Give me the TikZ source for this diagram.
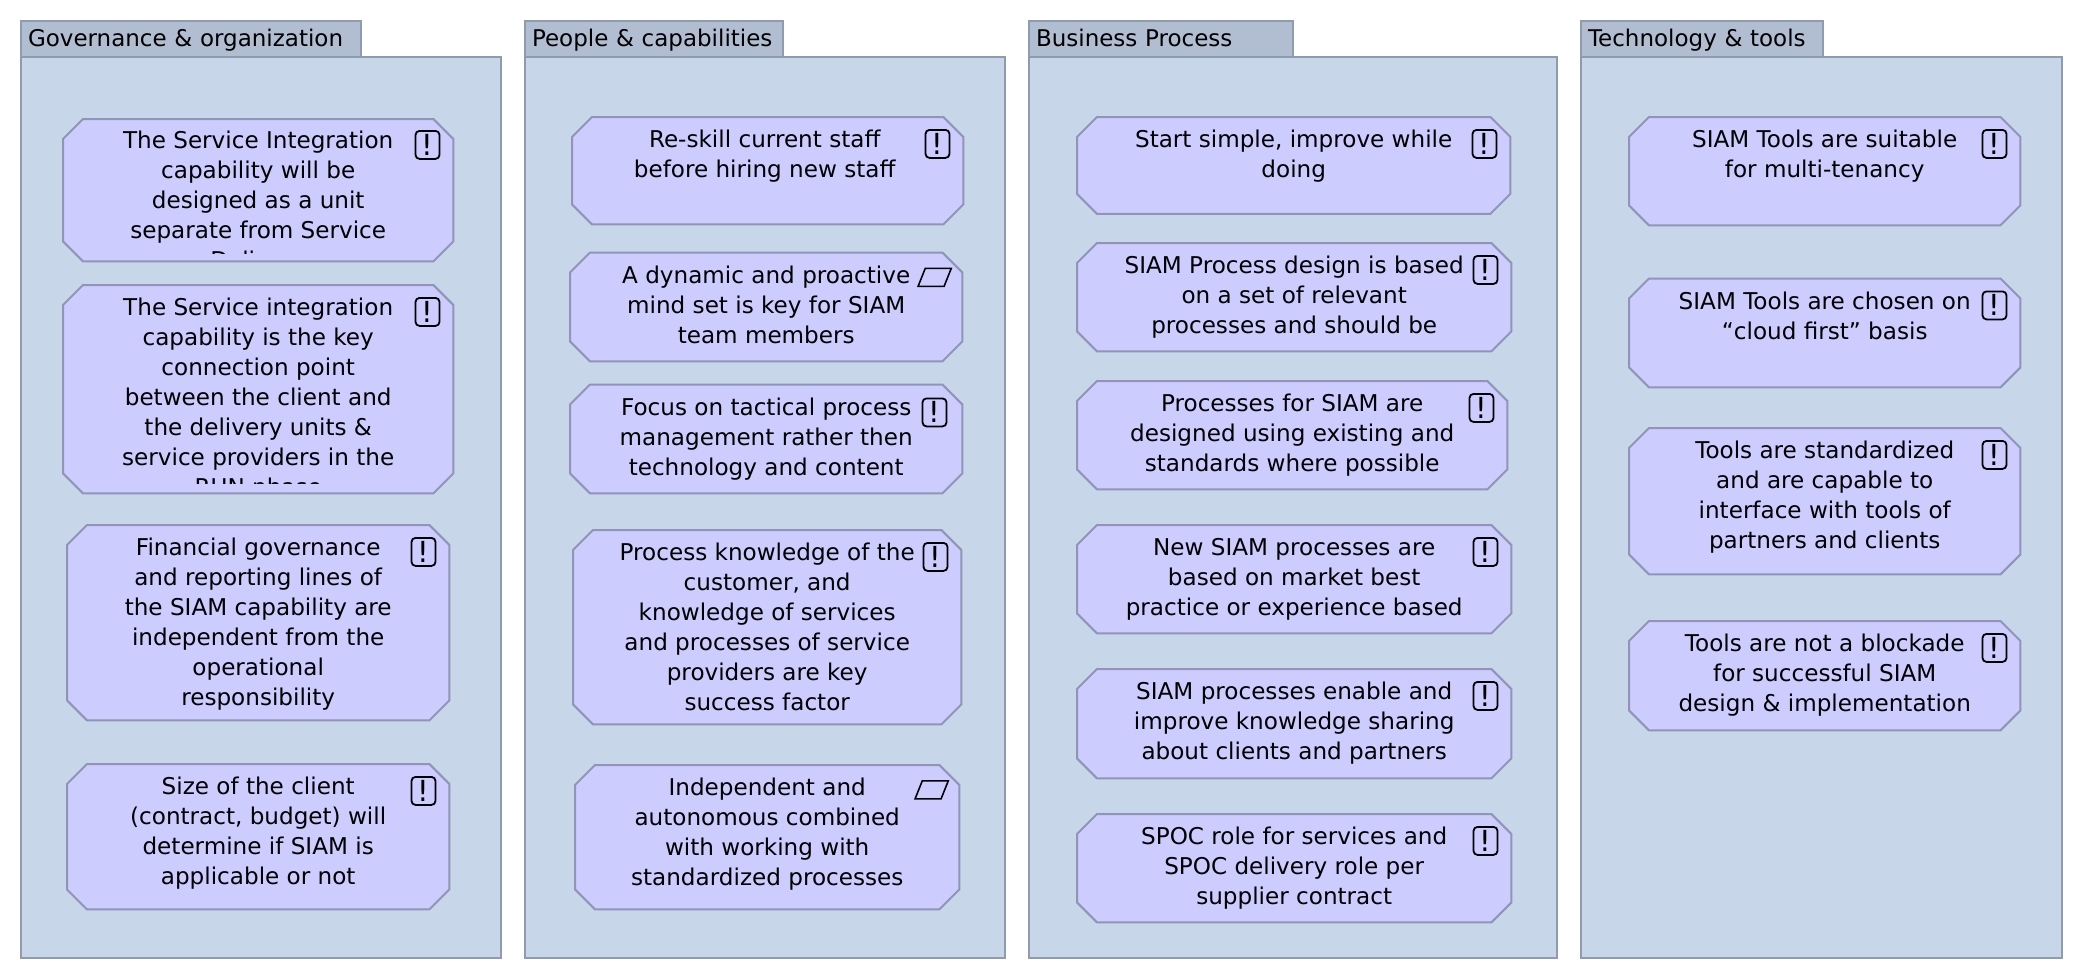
\documentclass[tikz,border=0pt]{standalone}
\usepackage{fontspec}
\setmainfont{DejaVu Sans}
\usetikzlibrary{positioning}
\definecolor{panelfill}{HTML}{C7D6E8}
\definecolor{tabfill}{HTML}{B1BED1}
\definecolor{panelline}{HTML}{8F9CB0}
\definecolor{goalfill}{HTML}{CCCCFF}
\definecolor{goalline}{HTML}{9095B8}
\begin{document}
\begin{tikzpicture}[
  x = 1pt, y = -1pt,
  panel/.style = {draw = panelline, fill = panelfill, line width = 2pt, anchor = north west, inner sep = 0pt, outer sep = 0pt},
  paneltab/.style = {draw = panelline, fill = tabfill, line width = 2pt, anchor = north west, inner xsep = 7pt, inner ysep = 0pt, outer sep = 0pt,
    minimum height = 36pt, text height = 15pt, text depth = 0pt, align = left, font = \fontsize{23}{30}\selectfont},
  goalbox/.style = {inner sep = 0pt, anchor = north west,
    append after command = {\pgfextra{
      \draw [draw = goalline, fill = goalfill, line width = 2pt]
        ([xshift = 20pt]\tikzlastnode.north west) -- ([xshift = -20pt]\tikzlastnode.north east)
        -- ([yshift = -20pt]\tikzlastnode.north east) -- ([yshift = 20pt]\tikzlastnode.south east)
        -- ([xshift = -20pt]\tikzlastnode.south east) -- ([xshift = 20pt]\tikzlastnode.south west)
        -- ([yshift = 20pt]\tikzlastnode.south west) -- ([yshift = -20pt]\tikzlastnode.north west) -- cycle;
    }}},
  goaltext/.style = {inner sep = 0pt, align = center, font = \fontsize{23.1}{30}\selectfont, execute at begin node = \strut},
  noteicon/.style = {draw = black, line width = 1.8pt, rounded corners = 4pt, inner sep = 0pt, minimum width = 24pt, minimum height = 28pt,
    font = \fontsize{29}{29}\selectfont},
  flagicon/.style = {draw = black, line width = 1.6pt, inner sep = 0pt, minimum width = 26pt, minimum height = 18pt, xslant = 0.4, transform shape}
  ]
  \useasboundingbox (0,0) rectangle (2082,978);

  \node (govtab) [paneltab, text width = 326pt] at (21,21) {Governance \& organization};
  \node (gov) [panel, minimum width = 480pt, minimum height = 900.5pt] at (21,57) {};
  \node (peotab) [paneltab, text width = 244pt] at (525,21) {People \& capabilities};
  \node (peo) [panel, minimum width = 480pt, minimum height = 900.5pt] at (525,57) {};
  \node (protab) [paneltab, text width = 250pt] at (1029,21) {Business Process};
  \node (pro) [panel, minimum width = 528pt, minimum height = 900.5pt] at (1029,57) {};
  \node (teatab) [paneltab, text width = 228pt] at (1581,21) {Technology \& tools};
  \node (tea) [panel, minimum width = 481pt, minimum height = 900.5pt] at (1581,57) {};

  \node (gov1) [goalbox, minimum width = 390pt, minimum height = 142pt] at (63,119) {};
  \begin{scope}
    \clip (63,118) rectangle (453,253);
    \node (gov1text) [goaltext, below = 12pt of gov1.north] {The Service Integration\\capability will be\\designed as a unit\\separate from Service\\Delivery};
  \end{scope}
  \node (gov1icon) [noteicon, below left = 11pt and 13pt of gov1.north east] {!};

  \node (gov2) [goalbox, minimum width = 390pt, minimum height = 208pt] at (63,285) {};
  \begin{scope}
    \clip (63,285) rectangle (453,483);
    \node (gov2text) [goaltext, below = 13pt of gov2.north] {The Service integration\\capability is the key\\connection point\\between the client and\\the delivery units \&\\service providers in the\\RUN phase};
  \end{scope}
  \node (gov2icon) [noteicon, below left = 12pt and 13pt of gov2.north east] {!};

  \node (gov3) [goalbox, minimum width = 382pt, minimum height = 195pt] at (67,525) {};
  \node (gov3text) [goaltext, below = 13pt of gov3.north] {Financial governance\\and reporting lines of\\the SIAM capability are\\independent from the\\operational\\responsibility};
  \node (gov3icon) [noteicon, below left = 12pt and 13pt of gov3.north east] {!};

  \node (gov4) [goalbox, minimum width = 382pt, minimum height = 145pt] at (67,764) {};
  \node (gov4text) [goaltext, below = 13pt of gov4.north] {Size of the client\\(contract, budget) will\\determine if SIAM is\\applicable or not};
  \node (gov4icon) [noteicon, below left = 12pt and 13pt of gov4.north east] {!};

  \node (peo1) [goalbox, minimum width = 391pt, minimum height = 107pt] at (572,117) {};
  \node (peo1text) [goaltext, below = 13pt of peo1.north, xshift = -3pt] {Re-skill current staff\\before hiring new staff};
  \node (peo1icon) [noteicon, below left = 12pt and 13pt of peo1.north east] {!};

  \node (peo2) [goalbox, minimum width = 392pt, minimum height = 108.5pt] at (570,252.5) {};
  \node (peo2text) [goaltext, below = 13pt of peo2.north] {A dynamic and proactive\\mind set is key for SIAM\\team members};
  \node (peo2icon) [flagicon, below left = 15pt and 10pt of peo2.north east] {};

  \node (peo3) [goalbox, minimum width = 392pt, minimum height = 108.5pt] at (570,384.5) {};
  \node (peo3text) [goaltext, below = 13pt of peo3.north] {Focus on tactical process\\management rather then\\technology and content};
  \node (peo3icon) [noteicon, below left = 13pt and 15pt of peo3.north east] {!};

  \node (peo4) [goalbox, minimum width = 388pt, minimum height = 194pt] at (573,530) {};
  \node (peo4text) [goaltext, below = 13pt of peo4.north] {Process knowledge of the\\customer, and\\knowledge of services\\and processes of service\\providers are key\\success factor};
  \node (peo4icon) [noteicon, below left = 12pt and 13pt of peo4.north east] {!};

  \node (peo5) [goalbox, minimum width = 384pt, minimum height = 144pt] at (575,765) {};
  \node (peo5text) [goaltext, below = 13pt of peo5.north] {Independent and\\autonomous combined\\with working with\\standardized processes};
  \node (peo5icon) [flagicon, below left = 15pt and 10pt of peo5.north east] {};

  \node (pro1) [goalbox, minimum width = 433pt, minimum height = 96.5pt] at (1077,117) {};
  \node (pro1text) [goaltext, below = 13pt of pro1.north] {Start simple, improve while\\doing};
  \node (pro1icon) [noteicon, below left = 12pt and 13pt of pro1.north east] {!};

  \node (pro2) [goalbox, minimum width = 434pt, minimum height = 108pt] at (1077,243) {};
  \node (pro2text) [goaltext, below = 13pt of pro2.north] {SIAM Process design is based\\on a set of relevant\\processes and should be};
  \node (pro2icon) [noteicon, below left = 12pt and 13pt of pro2.north east] {!};

  \node (pro3) [goalbox, minimum width = 430pt, minimum height = 108pt] at (1077,381) {};
  \node (pro3text) [goaltext, below = 13pt of pro3.north] {Processes for SIAM are\\designed using existing and\\standards where possible};
  \node (pro3icon) [noteicon, below left = 12pt and 13pt of pro3.north east] {!};

  \node (pro4) [goalbox, minimum width = 434pt, minimum height = 108pt] at (1077,525) {};
  \node (pro4text) [goaltext, below = 13pt of pro4.north] {New SIAM processes are\\based on market best\\practice or experience based};
  \node (pro4icon) [noteicon, below left = 12pt and 13pt of pro4.north east] {!};

  \node (pro5) [goalbox, minimum width = 434pt, minimum height = 109pt] at (1077,669) {};
  \node (pro5text) [goaltext, below = 13pt of pro5.north] {SIAM processes enable and\\improve knowledge sharing\\about clients and partners};
  \node (pro5icon) [noteicon, below left = 12pt and 13pt of pro5.north east] {!};

  \node (pro6) [goalbox, minimum width = 434pt, minimum height = 108pt] at (1077,814) {};
  \node (pro6text) [goaltext, below = 13pt of pro6.north] {SPOC role for services and\\SPOC delivery role per\\supplier contract};
  \node (pro6icon) [noteicon, below left = 12pt and 13pt of pro6.north east] {!};

  \node (tea1) [goalbox, minimum width = 391pt, minimum height = 108pt] at (1629,117) {};
  \node (tea1text) [goaltext, below = 13pt of tea1.north] {SIAM Tools are suitable\\for multi-tenancy};
  \node (tea1icon) [noteicon, below left = 12pt and 13pt of tea1.north east] {!};

  \node (tea2) [goalbox, minimum width = 391pt, minimum height = 108.5pt] at (1629,278.5) {};
  \node (tea2text) [goaltext, below = 13pt of tea2.north] {SIAM Tools are chosen on\\“cloud first” basis};
  \node (tea2icon) [noteicon, below left = 12pt and 13pt of tea2.north east] {!};

  \node (tea3) [goalbox, minimum width = 391pt, minimum height = 146pt] at (1629,428) {};
  \node (tea3text) [goaltext, below = 13pt of tea3.north] {Tools are standardized\\and are capable to\\interface with tools of\\partners and clients};
  \node (tea3icon) [noteicon, below left = 12pt and 13pt of tea3.north east] {!};

  \node (tea4) [goalbox, minimum width = 391pt, minimum height = 109pt] at (1629,621) {};
  \node (tea4text) [goaltext, below = 13pt of tea4.north] {Tools are not a blockade\\for successful SIAM\\design \& implementation};
  \node (tea4icon) [noteicon, below left = 12pt and 13pt of tea4.north east] {!};
\end{tikzpicture}
\end{document}
